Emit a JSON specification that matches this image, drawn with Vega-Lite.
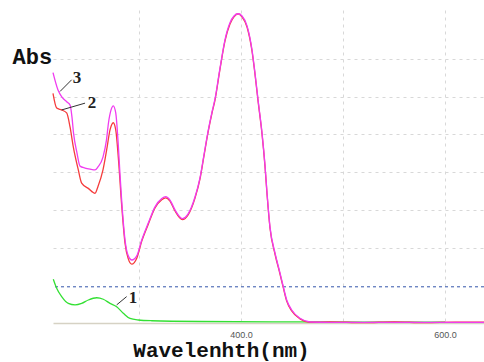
{
  "$schema": "https://vega.github.io/schema/vega-lite/v6.json",
  "autosize": {"type": "none"},
  "padding": {"left": 53, "top": 10, "right": 0, "bottom": 39},
  "width": 431,
  "height": 313,
  "background": "white",
  "config": {"view": {"stroke": null}},
  "datasets": {
    "spectra": [
      {"series": "2", "nm": 215.7, "abs": 0.609},
      {"series": "2", "nm": 219.3, "abs": 0.570},
      {"series": "2", "nm": 224.2, "abs": 0.565},
      {"series": "2", "nm": 229.1, "abs": 0.557},
      {"series": "2", "nm": 232.4, "abs": 0.520},
      {"series": "2", "nm": 235.6, "abs": 0.467},
      {"series": "2", "nm": 240.5, "abs": 0.406},
      {"series": "2", "nm": 243.8, "abs": 0.371},
      {"series": "2", "nm": 250.3, "abs": 0.357},
      {"series": "2", "nm": 256.9, "abs": 0.344},
      {"series": "2", "nm": 259.8, "abs": 0.362},
      {"series": "2", "nm": 264.7, "abs": 0.406},
      {"series": "2", "nm": 268.3, "abs": 0.459},
      {"series": "2", "nm": 271.6, "abs": 0.512},
      {"series": "2", "nm": 274.8, "abs": 0.531},
      {"series": "2", "nm": 277.2, "abs": 0.512},
      {"series": "2", "nm": 279.7, "abs": 0.440},
      {"series": "2", "nm": 283.0, "abs": 0.313},
      {"series": "2", "nm": 286.3, "abs": 0.212},
      {"series": "2", "nm": 289.5, "abs": 0.170},
      {"series": "2", "nm": 292.9, "abs": 0.156},
      {"series": "2", "nm": 297.8, "abs": 0.172},
      {"series": "2", "nm": 302.7, "abs": 0.217},
      {"series": "2", "nm": 309.1, "abs": 0.262},
      {"series": "2", "nm": 315.7, "abs": 0.305},
      {"series": "2", "nm": 322.3, "abs": 0.327},
      {"series": "2", "nm": 326.2, "abs": 0.332},
      {"series": "2", "nm": 330.4, "abs": 0.323},
      {"series": "2", "nm": 335.3, "abs": 0.297},
      {"series": "2", "nm": 342.5, "abs": 0.274},
      {"series": "2", "nm": 348.3, "abs": 0.287},
      {"series": "2", "nm": 354.9, "abs": 0.331},
      {"series": "2", "nm": 359.8, "abs": 0.382},
      {"series": "2", "nm": 363.7, "abs": 0.443},
      {"series": "2", "nm": 367.6, "abs": 0.504},
      {"series": "2", "nm": 371.6, "abs": 0.557},
      {"series": "2", "nm": 374.5, "abs": 0.591},
      {"series": "2", "nm": 379.4, "abs": 0.673},
      {"series": "2", "nm": 384.3, "abs": 0.748},
      {"series": "2", "nm": 389.2, "abs": 0.793},
      {"series": "2", "nm": 393.1, "abs": 0.812},
      {"series": "2", "nm": 397.1, "abs": 0.820},
      {"series": "2", "nm": 401.0, "abs": 0.812},
      {"series": "2", "nm": 405.9, "abs": 0.785},
      {"series": "2", "nm": 410.8, "abs": 0.721},
      {"series": "2", "nm": 413.7, "abs": 0.660},
      {"series": "2", "nm": 416.7, "abs": 0.589},
      {"series": "2", "nm": 420.6, "abs": 0.501},
      {"series": "2", "nm": 423.5, "abs": 0.416},
      {"series": "2", "nm": 425.5, "abs": 0.342},
      {"series": "2", "nm": 428.4, "abs": 0.252},
      {"series": "2", "nm": 433.3, "abs": 0.183},
      {"series": "2", "nm": 438.2, "abs": 0.130},
      {"series": "2", "nm": 441.5, "abs": 0.093},
      {"series": "2", "nm": 444.8, "abs": 0.058},
      {"series": "2", "nm": 449.7, "abs": 0.032},
      {"series": "2", "nm": 457.8, "abs": 0.011},
      {"series": "2", "nm": 467.6, "abs": 0.002},
      {"series": "2", "nm": 487.2, "abs": 0.003},
      {"series": "2", "nm": 520.0, "abs": 0.001},
      {"series": "2", "nm": 550.0, "abs": 0.003},
      {"series": "2", "nm": 580.0, "abs": 0.001},
      {"series": "2", "nm": 610.0, "abs": 0.002},
      {"series": "2", "nm": 638.2, "abs": 0.002},

      {"series": "3", "nm": 215.7, "abs": 0.664},
      {"series": "3", "nm": 220.6, "abs": 0.618},
      {"series": "3", "nm": 224.5, "abs": 0.599},
      {"series": "3", "nm": 229.4, "abs": 0.586},
      {"series": "3", "nm": 232.4, "abs": 0.578},
      {"series": "3", "nm": 234.3, "abs": 0.546},
      {"series": "3", "nm": 235.8, "abs": 0.504},
      {"series": "3", "nm": 239.2, "abs": 0.451},
      {"series": "3", "nm": 242.2, "abs": 0.416},
      {"series": "3", "nm": 247.1, "abs": 0.411},
      {"series": "3", "nm": 252.0, "abs": 0.408},
      {"series": "3", "nm": 256.9, "abs": 0.406},
      {"series": "3", "nm": 259.8, "abs": 0.414},
      {"series": "3", "nm": 264.7, "abs": 0.440},
      {"series": "3", "nm": 268.1, "abs": 0.485},
      {"series": "3", "nm": 270.1, "abs": 0.531},
      {"series": "3", "nm": 272.6, "abs": 0.565},
      {"series": "3", "nm": 274.8, "abs": 0.576},
      {"series": "3", "nm": 277.2, "abs": 0.557},
      {"series": "3", "nm": 279.7, "abs": 0.472},
      {"series": "3", "nm": 281.4, "abs": 0.393},
      {"series": "3", "nm": 283.0, "abs": 0.326},
      {"series": "3", "nm": 286.3, "abs": 0.220},
      {"series": "3", "nm": 289.5, "abs": 0.178},
      {"series": "3", "nm": 293.1, "abs": 0.167},
      {"series": "3", "nm": 297.8, "abs": 0.178},
      {"series": "3", "nm": 302.7, "abs": 0.220},
      {"series": "3", "nm": 309.1, "abs": 0.265},
      {"series": "3", "nm": 315.7, "abs": 0.308},
      {"series": "3", "nm": 322.3, "abs": 0.330},
      {"series": "3", "nm": 326.2, "abs": 0.335},
      {"series": "3", "nm": 330.4, "abs": 0.326},
      {"series": "3", "nm": 335.3, "abs": 0.300},
      {"series": "3", "nm": 342.5, "abs": 0.277},
      {"series": "3", "nm": 348.3, "abs": 0.290},
      {"series": "3", "nm": 354.9, "abs": 0.334},
      {"series": "3", "nm": 359.8, "abs": 0.385},
      {"series": "3", "nm": 363.7, "abs": 0.446},
      {"series": "3", "nm": 367.6, "abs": 0.507},
      {"series": "3", "nm": 371.6, "abs": 0.560},
      {"series": "3", "nm": 374.5, "abs": 0.594},
      {"series": "3", "nm": 379.4, "abs": 0.676},
      {"series": "3", "nm": 384.3, "abs": 0.751},
      {"series": "3", "nm": 389.2, "abs": 0.796},
      {"series": "3", "nm": 393.1, "abs": 0.814},
      {"series": "3", "nm": 397.1, "abs": 0.820},
      {"series": "3", "nm": 401.0, "abs": 0.814},
      {"series": "3", "nm": 405.9, "abs": 0.788},
      {"series": "3", "nm": 410.8, "abs": 0.724},
      {"series": "3", "nm": 413.7, "abs": 0.663},
      {"series": "3", "nm": 416.7, "abs": 0.592},
      {"series": "3", "nm": 420.6, "abs": 0.504},
      {"series": "3", "nm": 423.5, "abs": 0.419},
      {"series": "3", "nm": 425.5, "abs": 0.345},
      {"series": "3", "nm": 428.4, "abs": 0.255},
      {"series": "3", "nm": 433.3, "abs": 0.186},
      {"series": "3", "nm": 438.2, "abs": 0.133},
      {"series": "3", "nm": 441.5, "abs": 0.0955},
      {"series": "3", "nm": 444.8, "abs": 0.061},
      {"series": "3", "nm": 449.7, "abs": 0.0345},
      {"series": "3", "nm": 457.8, "abs": 0.0125},
      {"series": "3", "nm": 467.6, "abs": 0.0027},
      {"series": "3", "nm": 487.2, "abs": 0.0015},
      {"series": "3", "nm": 536.3, "abs": 0.0015},
      {"series": "3", "nm": 585.3, "abs": 0.0015},
      {"series": "3", "nm": 638.2, "abs": 0.0015},

      {"series": "1", "nm": 216.0, "abs": 0.116},
      {"series": "1", "nm": 219.3, "abs": 0.092},
      {"series": "1", "nm": 224.2, "abs": 0.070},
      {"series": "1", "nm": 230.7, "abs": 0.052},
      {"series": "1", "nm": 237.3, "abs": 0.048},
      {"series": "1", "nm": 243.8, "abs": 0.052},
      {"series": "1", "nm": 250.3, "abs": 0.061},
      {"series": "1", "nm": 258.5, "abs": 0.067},
      {"series": "1", "nm": 265.0, "abs": 0.063},
      {"series": "1", "nm": 271.6, "abs": 0.052},
      {"series": "1", "nm": 278.1, "abs": 0.043},
      {"series": "1", "nm": 284.6, "abs": 0.026},
      {"series": "1", "nm": 291.2, "abs": 0.012},
      {"series": "1", "nm": 299.3, "abs": 0.008},
      {"series": "1", "nm": 312.5, "abs": 0.006},
      {"series": "1", "nm": 359.8, "abs": 0.004},
      {"series": "1", "nm": 457.8, "abs": 0.003},
      {"series": "1", "nm": 600.0, "abs": 0.002}
    ],
    "labels": [
      {"label": "3", "nm": 239.2, "abs": 0.650},
      {"label": "2", "nm": 253.9, "abs": 0.584},
      {"label": "1", "nm": 294.1, "abs": 0.066}
    ],
    "pointers": [
      {"label": "3", "nm": 222.6, "abs": 0.614, "nm2": 234.0, "abs2": 0.645},
      {"label": "2", "nm": 224.2, "abs": 0.565, "nm2": 247.1, "abs2": 0.583},
      {"label": "1", "nm": 278.1, "abs": 0.048, "nm2": 287.9, "abs2": 0.070}
    ],
    "reference": [{"abs": 0.096}]
  },
  "layer": [
    {
      "data": {"name": "reference"},
      "mark": {"type": "rule", "color": "#3355aa", "strokeDash": [3, 3], "strokeWidth": 1},
      "encoding": {
        "y": {
          "field": "abs", "type": "quantitative",
          "scale": {"domain": [0, 0.83], "nice": false, "zero": false},
          "axis": {
            "values": [0.2, 0.3, 0.4, 0.5, 0.6, 0.7],
            "grid": true, "gridColor": "#d8d8d8", "gridDash": [3, 4], "gridWidth": 1,
            "labels": false, "ticks": false, "domain": false,
            "title": "Abs", "titleAngle": 0, "titleAlign": "left", "titleBaseline": "alphabetic",
            "titleX": -41, "titleY": 53, "titleFont": "Liberation Mono", "titleFontSize": 22,
            "titleFontWeight": "bold", "titleColor": "#111111"
          }
        }
      }
    },
    {
      "data": {"name": "spectra"},
      "transform": [{"filter": "datum.series === '1'"}],
      "mark": {"type": "line", "color": "#33e033", "strokeWidth": 1.3, "interpolate": "monotone"},
      "encoding": {
        "x": {
          "field": "nm", "type": "quantitative",
          "scale": {"domain": [215.7, 638.2], "nice": false, "zero": false},
          "axis": {
            "values": [300, 400, 500, 600],
            "grid": true, "gridColor": "#d8d8d8", "gridDash": [3, 4], "gridWidth": 1,
            "ticks": false, "domain": true, "domainColor": "#d6d2c4", "domainWidth": 1.5,
            "labelExpr": "datum.value == 400 || datum.value == 600 ? format(datum.value, '.1f') : ''",
            "labelFont": "Liberation Sans", "labelFontSize": 9, "labelColor": "#555555", "labelPadding": 7,
            "title": "Wavelenhth(nm)", "titleFont": "Liberation Mono", "titleFontSize": 21,
            "titleFontWeight": "bold", "titleColor": "#111111",
            "titleX": 168, "titleY": 33, "titleAlign": "center", "titleBaseline": "alphabetic"
          }
        },
        "y": {"field": "abs", "type": "quantitative"}
      }
    },
    {
      "data": {"name": "spectra"},
      "transform": [{"filter": "datum.series === '2'"}],
      "mark": {"type": "line", "color": "#f53c3c", "strokeWidth": 1.3, "interpolate": "monotone"},
      "encoding": {
        "x": {"field": "nm", "type": "quantitative"},
        "y": {"field": "abs", "type": "quantitative"}
      }
    },
    {
      "data": {"name": "spectra"},
      "transform": [{"filter": "datum.series === '3'"}],
      "mark": {"type": "line", "color": "#f03cf0", "strokeWidth": 1.3, "interpolate": "monotone"},
      "encoding": {
        "x": {"field": "nm", "type": "quantitative"},
        "y": {"field": "abs", "type": "quantitative"}
      }
    },
    {
      "data": {"name": "pointers"},
      "mark": {"type": "rule", "color": "#333333", "strokeWidth": 1},
      "encoding": {
        "x": {"field": "nm", "type": "quantitative"},
        "y": {"field": "abs", "type": "quantitative"},
        "x2": {"field": "nm2"},
        "y2": {"field": "abs2"}
      }
    },
    {
      "data": {"name": "labels"},
      "mark": {"type": "text", "font": "Liberation Serif", "fontSize": 17, "fontWeight": "bold", "color": "#222222", "align": "center", "baseline": "middle"},
      "encoding": {
        "x": {"field": "nm", "type": "quantitative"},
        "y": {"field": "abs", "type": "quantitative"},
        "text": {"field": "label"}
      }
    }
  ]
}
